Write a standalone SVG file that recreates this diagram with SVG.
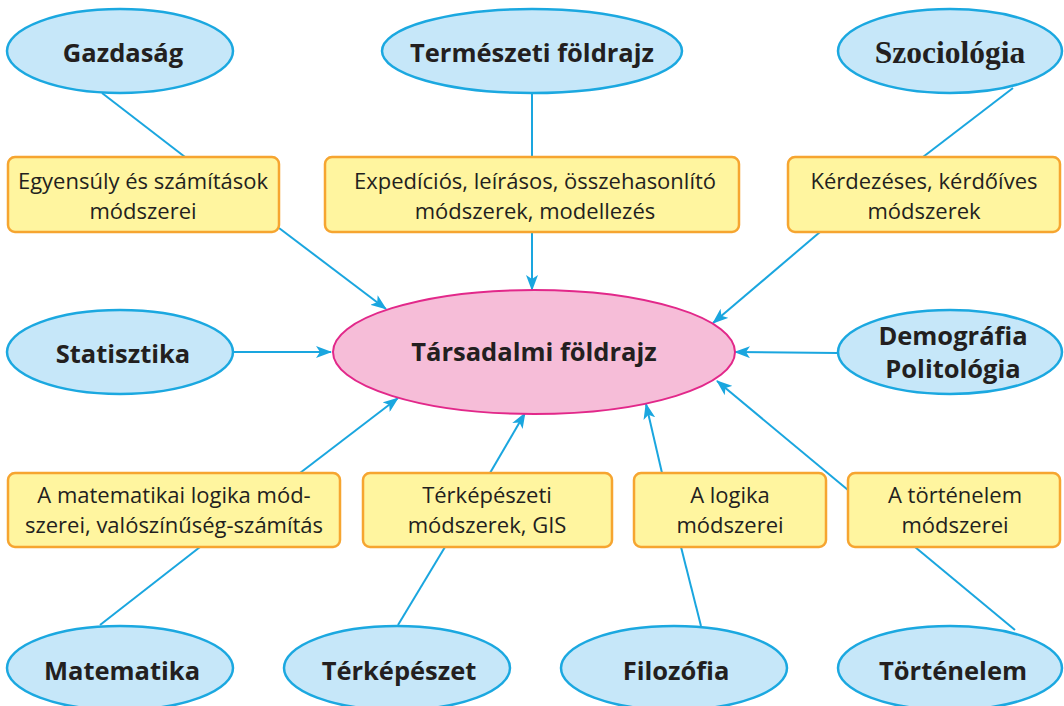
<svg xmlns="http://www.w3.org/2000/svg" width="1064" height="706" viewBox="0 0 1064 706">
<style>
.el{fill:#c6e7f9;stroke:#1ba8e0;stroke-width:2.5}
.ctr{fill:#f6bdd8;stroke:#e2288a;stroke-width:2}
.box{fill:#fff59f;stroke:#f6a530;stroke-width:2.5}
.lbl{font-family:"Open Sans","Noto Sans",sans-serif;font-weight:bold;font-size:25.5px;fill:#231f20;text-anchor:middle}
.ser{font-family:"Liberation Serif",serif;font-weight:bold;font-size:31.5px;fill:#231f20;text-anchor:middle}
.txt{font-family:"Open Sans","Noto Sans",sans-serif;font-size:22px;fill:#231f20;text-anchor:middle}
.ln{stroke:#1aa6df;stroke-width:2;fill:none}
.ar{stroke:#1aa6df;stroke-width:2;fill:none;marker-end:url(#ah)}
</style>
<defs>
<marker id="ah" markerUnits="userSpaceOnUse" markerWidth="16" markerHeight="12" refX="15" refY="6" orient="auto">
<path d="M0,0 L16,6 L0,12 L4,6 Z" fill="#1aa6df"/>
</marker>
</defs>
<g id="connectors">
<line class="ln" x1="102" y1="93" x2="185" y2="157"/>
<line class="ar" x1="279" y1="228" x2="386" y2="309"/>
<line class="ln" x1="532" y1="93" x2="532" y2="157"/>
<line class="ar" x1="532" y1="232" x2="532" y2="290"/>
<line class="ln" x1="1013" y1="88" x2="923" y2="157"/>
<line class="ar" x1="820" y1="232" x2="713" y2="323"/>
<line class="ar" x1="233" y1="352" x2="331" y2="352"/>
<line class="ar" x1="838" y1="353" x2="735" y2="352"/>
<line class="ln" x1="100" y1="625" x2="200" y2="547"/>
<line class="ar" x1="300" y1="473" x2="398" y2="398"/>
<line class="ln" x1="398" y1="625" x2="445" y2="547"/>
<line class="ar" x1="490" y1="473" x2="525" y2="413"/>
<line class="ln" x1="701" y1="626" x2="681" y2="547"/>
<line class="ar" x1="662" y1="473" x2="646" y2="404"/>
<line class="ln" x1="1015" y1="630" x2="915" y2="547"/>
<line class="ar" x1="848" y1="490" x2="717" y2="381"/>
</g>
<g id="gazdasag"><ellipse class="el" cx="120" cy="51" rx="113" ry="42"/><text class="lbl" x="123" y="62">Gazdaság</text></g>
<g id="termeszeti"><ellipse class="el" cx="532" cy="51" rx="150" ry="42"/><text class="lbl" x="532" y="62">Természeti földrajz</text></g>
<g id="szociologia"><ellipse class="el" cx="950" cy="51" rx="112" ry="42"/><text class="ser" x="950" y="63">Szociológia</text></g>
<g id="box-egyensuly"><rect class="box" x="8" y="157" width="271" height="75" rx="7"/><text class="txt" x="143" y="189">Egyensúly és számítások</text><text class="txt" x="143" y="219">módszerei</text></g>
<g id="box-expedicios"><rect class="box" x="325" y="157" width="414" height="75" rx="7"/><text class="txt" x="535" y="189">Expedíciós, leírásos, összehasonlító</text><text class="txt" x="535" y="219">módszerek, modellezés</text></g>
<g id="box-kerdezeses"><rect class="box" x="788" y="157" width="272" height="75" rx="7"/><text class="txt" x="924" y="189">Kérdezéses, kérdőíves</text><text class="txt" x="924" y="219">módszerek</text></g>
<g id="statisztika"><ellipse class="el" cx="120" cy="352" rx="113" ry="42"/><text class="lbl" x="123" y="363">Statisztika</text></g>
<g id="tarsadalmi"><ellipse class="ctr" cx="534" cy="352" rx="201" ry="62"/><text class="lbl" x="534" y="361">Társadalmi földrajz</text></g>
<g id="demografia"><ellipse class="el" cx="950" cy="352" rx="112" ry="42"/><text class="lbl" x="953" y="345">Demográfia</text><text class="lbl" x="953" y="378">Politológia</text></g>
<g id="box-matematikai"><rect class="box" x="8" y="473" width="332" height="74" rx="7"/><text class="txt" x="174" y="503">A matematikai logika mód-</text><text class="txt" x="174" y="533">szerei, valószínűség-számítás</text></g>
<g id="box-terkepeszeti"><rect class="box" x="363" y="473" width="249" height="74" rx="7"/><text class="txt" x="487" y="503">Térképészeti</text><text class="txt" x="487" y="533">módszerek, GIS</text></g>
<g id="box-logika"><rect class="box" x="634" y="473" width="192" height="74" rx="7"/><text class="txt" x="730" y="503">A logika</text><text class="txt" x="730" y="533">módszerei</text></g>
<g id="box-tortenelem"><rect class="box" x="848" y="473" width="212" height="74" rx="7"/><text class="txt" x="955" y="503">A történelem</text><text class="txt" x="955" y="533">módszerei</text></g>
<g id="matematika"><ellipse class="el" cx="120" cy="668" rx="113" ry="42"/><text class="lbl" x="122" y="680">Matematika</text></g>
<g id="terkepeszet"><ellipse class="el" cx="397" cy="668" rx="113" ry="42"/><text class="lbl" x="399" y="680">Térképészet</text></g>
<g id="filozofia"><ellipse class="el" cx="674" cy="668" rx="113" ry="42"/><text class="lbl" x="676" y="680">Filozófia</text></g>
<g id="tortenelem"><ellipse class="el" cx="950" cy="668" rx="112" ry="42"/><text class="lbl" x="953" y="680">Történelem</text></g>
</svg>
